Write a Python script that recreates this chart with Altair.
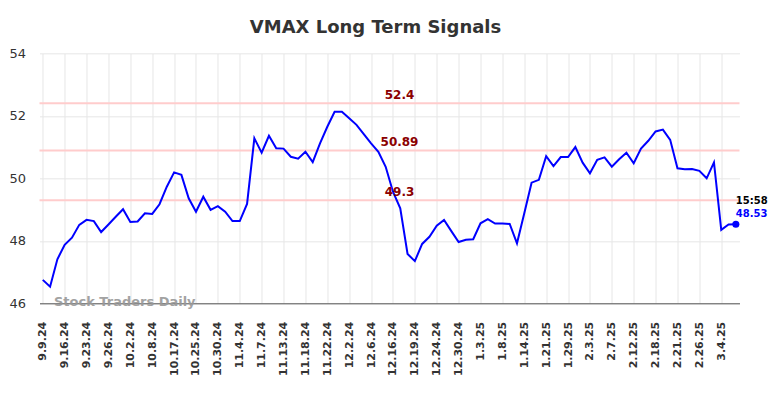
import json
import altair as alt
import pandas as pd

labels = ["9.9.24", "9.16.24", "9.23.24", "9.26.24", "10.2.24", "10.8.24", "10.17.24",
          "10.25.24", "10.30.24", "11.4.24", "11.7.24", "11.13.24", "11.18.24", "11.22.24",
          "12.2.24", "12.6.24", "12.16.24", "12.19.24", "12.24.24", "12.30.24", "1.3.25",
          "1.8.25", "1.14.25", "1.21.25", "1.29.25", "2.3.25", "2.7.25", "2.12.25",
          "2.18.25", "2.21.25", "2.26.25", "3.4.25"]

prices = [46.75, 46.53, 47.41, 47.87, 48.10, 48.51, 48.67, 48.63, 48.28, 48.52,
          48.77, 49.01, 48.60, 48.62, 48.88, 48.86, 49.17, 49.73, 50.19, 50.11,
          49.36, 48.93, 49.41, 48.99, 49.11, 48.93, 48.63, 48.63, 49.18, 51.28,
          50.82, 51.36, 50.96, 50.95, 50.69, 50.63, 50.85, 50.52, 51.12, 51.65,
          52.13, 52.13, 51.92, 51.71, 51.41, 51.12, 50.85, 50.37, 49.57, 49.04,
          47.58, 47.35, 47.90, 48.13, 48.48, 48.67, 48.31, 47.96, 48.03, 48.05,
          48.56, 48.69, 48.55, 48.55, 48.54, 47.92, 48.88, 49.86, 49.95, 50.71,
          50.39, 50.68, 50.68, 51.00, 50.50, 50.16, 50.59, 50.67, 50.37, 50.61,
          50.82, 50.48, 50.95, 51.20, 51.50, 51.56, 51.23, 50.32, 50.29, 50.30,
          50.24, 50.00, 50.51, 48.35, 48.52, 48.53]

levels = [52.4, 50.89, 49.3]
level_text = ["52.4", "50.89", "49.3"]
last_time = "15:58"
last_price_text = "48.53"

FONT = "DejaVu Sans"

df = pd.DataFrame({"i": list(range(len(prices))), "price": prices})
lv = pd.DataFrame({"level": levels, "txt": level_text})
last = pd.DataFrame({"i": [len(prices) - 1], "price": [prices[-1]],
                     "t": [last_time], "p": [last_price_text]})

label_expr = json.dumps(labels) + "[round(datum.value / 3)]"

x_scale = alt.Scale(domain=[-0.45, 95.5], nice=False, zero=False)
y_scale = alt.Scale(domain=[46, 54], nice=False, zero=False)

x_axis = alt.Axis(values=list(range(0, 3 * len(labels), 3)), labelExpr=label_expr,
                  tickCount=200,
                  labelAngle=-90, labelFont=FONT, labelFontSize=11, labelFontWeight="bold",
                  labelColor="#333", labelPadding=18, ticks=False, grid=True,
                  gridColor="#e6e6e6", domainColor="#555", domainWidth=1, title=None,
                  labelOverlap=False)
y_axis = alt.Axis(values=[46, 48, 50, 52, 54], labelFont=FONT, labelFontSize=13,
                  labelColor="#333", labelPadding=14, ticks=False, grid=True,
                  gridColor="#e6e6e6", domain=False, title=None)

base_line = alt.Chart(df).mark_line(color="#0000ff", strokeWidth=2).encode(
    x=alt.X("i:Q", scale=x_scale, axis=x_axis),
    y=alt.Y("price:Q", scale=y_scale, axis=y_axis),
)

rules = alt.Chart(lv).mark_rule(color="#ffcccc", strokeWidth=2).encode(
    y=alt.Y("level:Q", scale=y_scale)
)

rule_text = alt.Chart(lv).mark_text(color="#8b0000", font=FONT, fontSize=12,
                                    fontWeight="bold", baseline="bottom", dy=-1).encode(
    x=alt.value(360),
    y=alt.Y("level:Q", scale=y_scale),
    text="txt:N",
)

dot = alt.Chart(last).mark_circle(color="#0000ff", size=50, opacity=1).encode(
    x=alt.X("i:Q", scale=x_scale),
    y=alt.Y("price:Q", scale=y_scale),
)

t_time = alt.Chart(last).mark_text(color="black", font=FONT, fontSize=10, fontWeight="bold",
                                   align="left", baseline="middle", dx=0, dy=-23).encode(
    x=alt.X("i:Q", scale=x_scale),
    y=alt.Y("price:Q", scale=y_scale),
    text="t:N",
)
t_price = alt.Chart(last).mark_text(color="#0000ff", font=FONT, fontSize=10, fontWeight="bold",
                                    align="left", baseline="middle", dx=0, dy=-10).encode(
    x=alt.X("i:Q", scale=x_scale),
    y=alt.Y("price:Q", scale=y_scale),
    text="p:N",
)

watermark = alt.Chart(pd.DataFrame({"w": ["Stock Traders Daily"]})).mark_text(
    color="#999999", font=FONT, fontSize=13, fontWeight="bold", align="left",
    baseline="middle", opacity=0.9).encode(
    x=alt.value(14.5), y=alt.value(249), text="w:N")

chart = alt.layer(rules, base_line, rule_text, watermark, dot, t_time, t_price).properties(
    width=700, height=250,
    title=alt.TitleParams("VMAX Long Term Signals", font=FONT, fontSize=18, fontWeight="bold",
                          color="#333", anchor="middle", dx=-14, offset=10),
    autosize=alt.AutoSizeParams(type="none"),
    padding={"left": 31.5, "top": 45.3, "right": 36, "bottom": 86},
).configure_view(stroke=None)

chart.save("out.html", embed_options={"renderer": "svg", "actions": False})
